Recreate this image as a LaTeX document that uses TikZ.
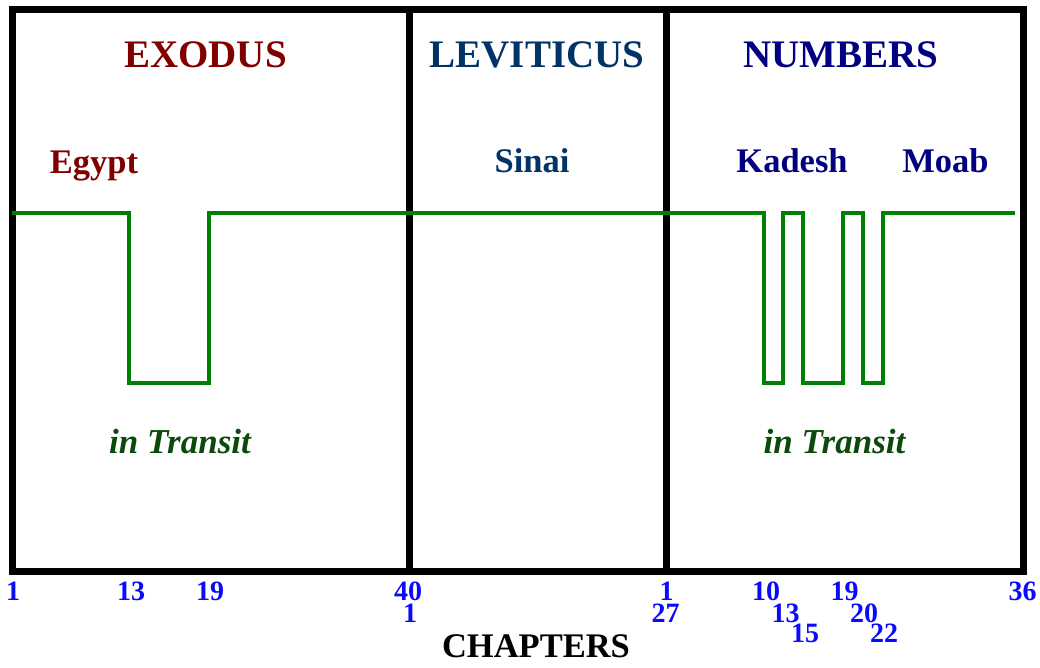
\documentclass[tikz,border=0pt]{standalone}
\usepackage{fontspec}
\setmainfont{Liberation Serif}
\definecolor{exo}{HTML}{800000}
\definecolor{lev}{HTML}{003366}
\definecolor{num}{HTML}{000080}
\definecolor{tra}{HTML}{0B4A0B}
\definecolor{gline}{HTML}{008000}
\definecolor{chap}{HTML}{0A0AFF}
\begin{document}
\begin{tikzpicture}[x=1pt,y=-1pt,
  booktitle/.style={font=\fontsize{39}{39}\selectfont\bfseries, anchor=base, inner sep=0pt},
  place/.style={font=\fontsize{34.5}{34.5}\selectfont\bfseries, anchor=base, inner sep=0pt},
  transit/.style={font=\fontsize{35}{35}\selectfont\bfseries\itshape, anchor=base, inner sep=0pt, text=tra},
  chnum/.style={font=\fontsize{28}{28}\selectfont\bfseries, anchor=base, inner sep=0pt, text=chap},
  frame/.style={line width=6.5pt, black, line join=miter},
  route/.style={line width=3.5pt, gline, line join=miter}]
\useasboundingbox (0,0) rectangle (1040,667);
% frame
\draw[frame] (12.5,9.5) rectangle (1023.5,571.5);
\coordinate (d1t) at (409.5,9.5); \coordinate (d1b) at (409.5,571.5);
\coordinate (d2t) at (666.5,9.5); \coordinate (d2b) at (666.5,571.5);
\draw[frame] (d1t) -- (d1b);
\draw[frame] (d2t) -- (d2b);
% titles
\node[booktitle, text=exo] (exodus) at (205.5,67) {EXODUS};
\node[booktitle, text=lev] (levit) at (537,67) {LEVITICUS};
\node[booktitle, text=num] (numbers) at (841,67) {NUMBERS};
% places
\node[place, text=exo] (egypt) at (94,173) {Egypt};
\node[place, text=lev] (sinai) at (532,172) {Sinai};
\node[place, text=num] (kadesh) at (792,172) {Kadesh};
\node[place, text=num] (moab) at (945.5,172) {Moab};
\node[transit] (tr1) at (180,453) {in Transit};
\node[transit] (tr2) at (834.5,453) {in Transit};
% route
\draw[route] (12,213) -- (129,213) -- (129,383) -- (209,383) -- (209,213)
  -- (764,213) -- (764,383) -- (783,383) -- (783,213) -- (803,213)
  -- (803,383) -- (843,383) -- (843,213) -- (863,213) -- (863,383)
  -- (883,383) -- (883,213) -- (1015,213);
% chapter numbers
\node[chnum] (c1) at (13,600) {1};
\node[chnum] (c13) at (131,600) {13};
\node[chnum] (c19) at (210,600) {19};
\node[chnum] (c40) at (408,600) {40};
\node[chnum] (l1) at (410,622) {1};
\node[chnum] (n1) at (666.5,600) {1};
\node[chnum] (l27) at (665.5,622) {27};
\node[chnum] (n10) at (766,600) {10};
\node[chnum] (n13) at (785.5,622) {13};
\node[chnum] (n15) at (805,642) {15};
\node[chnum] (n19) at (844.5,600) {19};
\node[chnum] (n20) at (864,622) {20};
\node[chnum] (n22) at (884,642) {22};
\node[chnum] (n36) at (1022.5,600) {36};
\node[font=\fontsize{34.5}{34.5}\selectfont\bfseries, anchor=base, inner sep=0pt] (chapters) at (536,657) {CHAPTERS};
\end{tikzpicture}
\end{document}
